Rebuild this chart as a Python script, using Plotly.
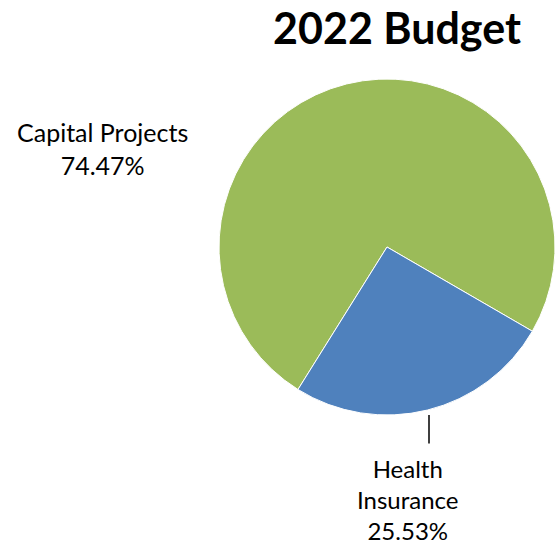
import plotly.graph_objects as go

# budget split
labels = ['Capital Projects', 'Health Insurance']
values = [74.47, 25.53]
slice_colors = ['#9BBB59', '#4F81BD']

W, H = 556, 545

fig = go.Figure()

fig.add_trace(go.Pie(
    labels=labels,
    values=values,
    sort=False,
    direction='clockwise',
    rotation=212,
    textinfo='none',
    hoverinfo='label+percent',
    marker=dict(colors=slice_colors, line=dict(color='white', width=1)),
    domain=dict(x=[219/W, 555/W], y=[1-415/H, 1-79/H]),
    showlegend=False,
))

font_txt = dict(family='Lato, Open Sans, sans-serif', size=25, color='black')

# data labels
fig.add_annotation(text=labels[0] + '<br>' + '%.2f%%' % values[0],
                   x=102/W, y=1-148/H, xref='paper', yref='paper',
                   xanchor='center', yanchor='middle',
                   showarrow=False, font=font_txt, align='center')
fig.add_annotation(text='Health<br>Insurance<br>' + '%.2f%%' % values[1],
                   x=408/W, y=1-499/H, xref='paper', yref='paper',
                   xanchor='center', yanchor='middle', borderpad=0,
                   showarrow=False, font=dict(font_txt, size=24), align='center')
# leader line
fig.add_annotation(text='', x=429/W, y=1-415/H, xref='paper', yref='paper',
                   showarrow=True, arrowhead=0, arrowwidth=1.5, arrowcolor='black',
                   ax=0, ay=30)

fig.update_layout(
    width=W, height=H,
    margin=dict(l=0, r=0, t=0, b=0),
    paper_bgcolor='white',
    title=dict(text='<b>2022 Budget</b>', x=397/W, xanchor='center',
               y=1-29/H, yanchor='middle',
               font=dict(family='Lato, Open Sans, sans-serif', size=43, color='black')),
)

fig.write_html('out.html', config={'displayModeBar': False},
               post_script="document.body.style.margin='0';")
